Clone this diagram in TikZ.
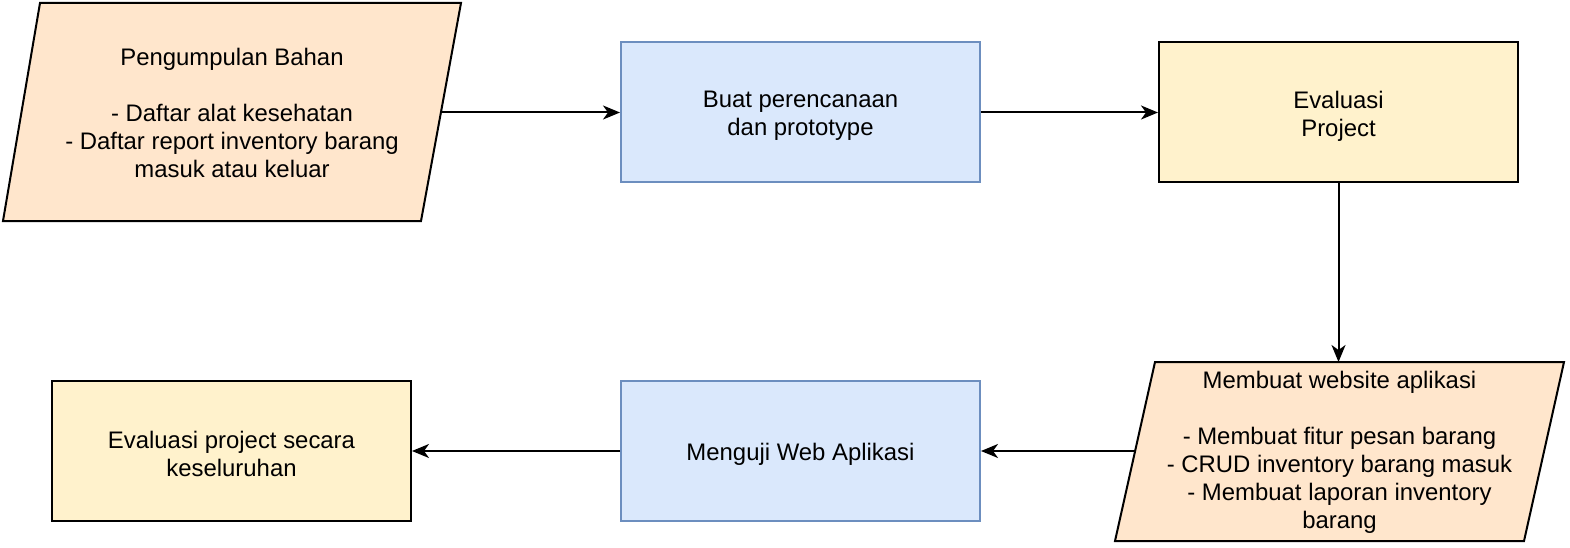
\documentclass[tikz,border=0pt]{standalone}
\usepackage{fontspec}
\setmainfont{Liberation Sans}
\usetikzlibrary{arrows.meta}
\definecolor{orfill}{HTML}{FFE6CC}
\definecolor{blfill}{HTML}{DAE8FC}
\definecolor{blline}{HTML}{6C8EBF}
\definecolor{yefill}{HTML}{FFF2CC}
\begin{document}
\begin{tikzpicture}[x=1pt,y=-1pt,
  txt/.style={align=center, font=\fontsize{23.9}{28}\selectfont, inner sep=0pt},
  box/.style={draw, line width=2pt, minimum width=359pt, minimum height=140pt, inner sep=0pt},
  bluebox/.style={box, fill=blfill, draw=blline},
  yellowbox/.style={box, fill=yefill, draw=black},
  para/.style={fill=orfill, draw=black, line width=2pt, line join=miter},
  arr/.style={line width=2pt, -{Stealth[length=17pt,width=14pt,inset=5pt]}}]
\useasboundingbox (0,0) rectangle (1570,548);

% parallelogram 1
\path[para] (40,3) -- (461,3) -- (421,221) -- (3,221) -- cycle;
\node[txt] (t1) at (232,113) {Pengumpulan Bahan\\[28pt]- Daftar alat kesehatan\\- Daftar report inventory barang\\masuk atau keluar};
\coordinate (p1e) at (441,112.5);

% boxes top row
\node[bluebox] (n2) at (800.5,112.5) {};
\node[txt] (t2) at ([yshift=-3.5pt]n2.center) {Buat perencanaan\\dan prototype};
\node[yellowbox] (n3) at (1338.5,112.5) {};
\node[txt] (t3) at ([yshift=-3.5pt]n3.center) {Evaluasi\\Project};

% parallelogram 2
\path[para] (1155,362) -- (1564,362) -- (1524,541) -- (1115,541) -- cycle;
\node[txt] (t4) at (1339.5,452) {Membuat website aplikasi\\[28pt]- Membuat fitur pesan barang\\- CRUD inventory barang masuk\\- Membuat laporan inventory\\barang};
\coordinate (p2w) at (1135,451);
\coordinate (p2n) at (1338.5,362);

% boxes bottom row
\node[bluebox] (n5) at (800.5,451) {};
\node[txt] (t5) at ([yshift=-3pt]n5.center) {Menguji Web Aplikasi};
\node[yellowbox] (n6) at (231.5,451) {};
\node[txt] (t6) at ([yshift=-3pt]n6.center) {Evaluasi project secara\\keseluruhan};

% connectors
\draw[arr] (p1e) -- (n2.west);
\draw[arr] (n2.east) -- (n3.west);
\draw[arr] (n3.south) -- (p2n);
\draw[arr] (p2w) -- (n5.east);
\draw[arr] (n5.west) -- (n6.east);
\end{tikzpicture}
\end{document}
